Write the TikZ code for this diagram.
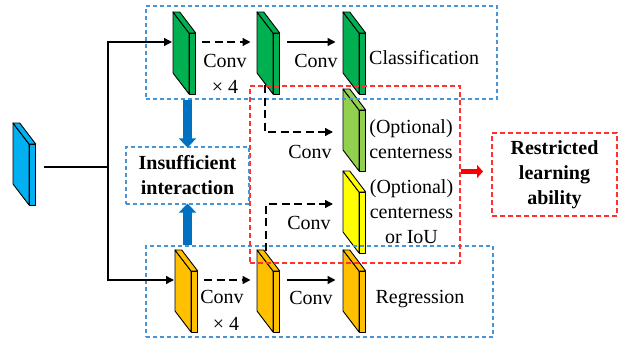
\documentclass[tikz,border=0pt]{standalone}
\usepackage{fontspec}
\setmainfont{Liberation Serif}
\usetikzlibrary{arrows.meta,calc}

\definecolor{fmgreen}{RGB}{0,176,80}
\definecolor{fmlime}{RGB}{146,208,80}
\definecolor{fmyellow}{RGB}{255,255,0}
\definecolor{fmorange}{RGB}{255,192,0}
\definecolor{fmblue}{RGB}{0,176,240}
\definecolor{boxblue}{RGB}{70,150,215}
\definecolor{boxred}{RGB}{255,50,50}
\definecolor{arrowblue}{RGB}{0,112,192}

% feature map drawn as a thin slab: name, x, y (top-left corner), fill colour
\newcommand\featmap[4]{%
  \begin{scope}[shift={(#2,#3)}]
    \filldraw[fill=#4,slabline] (0,0) -- (16,21) -- (16,82) -- (0,61) -- cycle;
    \filldraw[fill=#4,slabline] (0,0) -- (6.7,0) -- (22.7,21) -- (16,21) -- cycle;
    \filldraw[fill=#4,slabline] (16,21) rectangle (22.7,82);
    \coordinate (#1) at (0,0);
    \coordinate (#1-in) at (-1,30);
    \coordinate (#1-gin) at (-6.5,30);
    \coordinate (#1-out) at (29,30);
  \end{scope}}

\tikzset{
  slabline/.style={draw=black,line width=0.9pt,line join=round},
  txt/.style={font=\fontsize{20}{25}\selectfont,inner sep=0pt,align=center},
  btxt/.style={font=\fontsize{20}{25}\selectfont\bfseries,inner sep=0pt,align=center},
  bluebox/.style={draw=boxblue,line width=1.2pt,dash pattern=on 4pt off 3pt,inner sep=0pt},
  redbox/.style={draw=boxred,line width=1.2pt,dash pattern=on 5pt off 3pt,inner sep=0pt},
  conn/.style={draw=black,line width=1.4pt},
  arr/.style={conn,-{Triangle[length=8pt,width=8pt]}},
  darr/.style={arr,dash pattern=on 8pt off 4.5pt},
  fatblue/.style={draw=arrowblue,line width=9pt,-{Triangle[length=9pt,width=17pt]}},
  fatred/.style={draw=red,line width=5pt,-{Triangle[length=6pt,width=13pt]}},
}

\begin{document}
\begin{tikzpicture}[x=1pt,y=-1pt]
\useasboundingbox (0,0) rectangle (625,340);

% feature maps
\featmap{B}{13}{123}{fmblue}
\featmap{G1}{173}{12}{fmgreen}
\featmap{G2}{257}{12}{fmgreen}
\featmap{G3}{343}{12}{fmgreen}
\featmap{LG}{343}{89}{fmlime}
\featmap{Y}{343}{171}{fmyellow}
\featmap{O1}{175}{250}{fmorange}
\featmap{O2}{257}{250}{fmorange}
\featmap{O3}{343}{250}{fmorange}

% dashed frames
\node[bluebox,minimum width=351pt,minimum height=93pt] (cls) at (321.5,52.5) {};
\node[bluebox,minimum width=347pt,minimum height=91pt] (reg) at (319.5,291.5) {};
\node[redbox,minimum width=210pt,minimum height=177pt] (opt) at (355,174.5) {};
\node[bluebox,minimum width=123pt,minimum height=57pt,btxt] (ins) at (187.5,175.5) {Insufficient\\interaction};
\node[redbox,minimum width=125pt,minimum height=83pt,btxt] (rla) at (554.5,174.5) {Restricted\\learning\\ability};

% backbone feature split into the two branches
\coordinate (split) at (108,167);
\draw[conn] ($(B)+(31,44)$) -- (split);
\draw[arr] (split) |- (G1-in);
\draw[arr] (split) |- (O1-in);

% classification branch
\draw[darr] (G1-out) -- (G2-gin);
\draw[arr] ([xshift=1]G2-out) -- ([xshift=-1]G3-gin);
\node[txt] (c1) at (225,61) {Conv};
\node[txt] (c1x) at (225,87) {× 4};
\node[txt] (c2) at (316,61) {Conv};
\node[txt,anchor=west] (clsl) at (369,58) {Classification};

% regression branch
\draw[darr] (O1-out) -- (O2-gin);
\draw[arr] ([xshift=1]O2-out) -- ([xshift=-1]O3-gin);
\node[txt] (r1) at (222,297) {Conv};
\node[txt] (r1x) at (226,324) {× 4};
\node[txt] (r2) at (311,298) {Conv};
\node[txt] (regl) at (420,299) {Regression};

% optional heads
\draw[darr] ($(G2)+(8,73)$) |- ($(LG)+(-10,43)$);
\node[txt] (c3) at (310,152) {Conv};
\node[txt] (cen) at (411,139) {(Optional)\\centerness};
\draw[darr] ($(O2)+(9,1)$) |- ($(Y)+(-10,33)$);
\node[txt] (c4) at (309,223) {Conv};
\node[txt] (ciou) at (411.5,211.5) {(Optional)\\centerness\\or IoU};

% consequences
\draw[fatblue] (cls.south -| ins) -- ([yshift=-1]ins.north);
\draw[fatblue] (reg.north -| ins) -- ([yshift=1]ins.south);
\draw[fatred] (opt.east |- 0,171.5) -- (483,171.5);
\end{tikzpicture}
\end{document}
